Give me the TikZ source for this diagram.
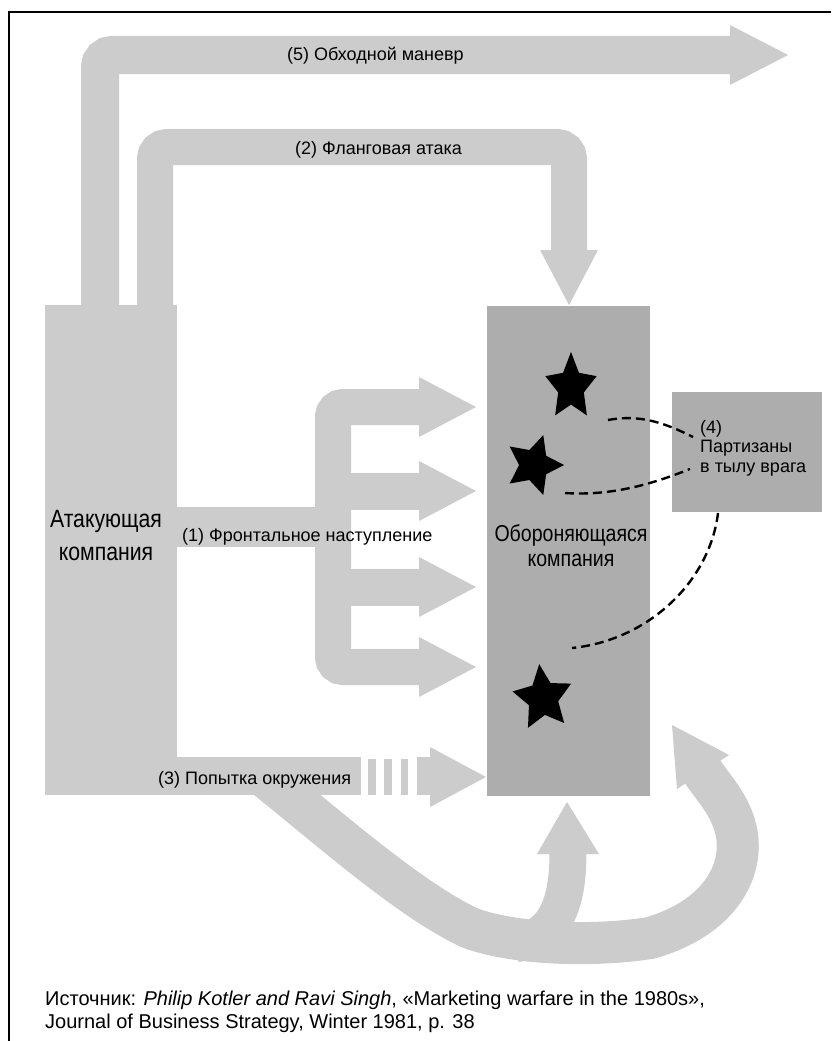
\documentclass[tikz,border=0pt]{standalone}
\usepackage{fontspec}
\setmainfont{Liberation Sans}
\newfontfamily\narrowfont{Liberation Sans}[FakeStretch=0.85]
\definecolor{armcol}{gray}{0.80}
\definecolor{boxcol}{gray}{0.68}
\newcommand{\drawstar}[5]{%
  \begin{scope}[shift={(#1,#2)}, yscale=#5]
    \fill[black] ({#4}:#3) -- ({#4+36}:{#3*0.5}) -- ({#4+72}:#3) -- ({#4+108}:{#3*0.5})
      -- ({#4+144}:#3) -- ({#4+180}:{#3*0.5}) -- ({#4+216}:#3) -- ({#4+252}:{#3*0.5})
      -- ({#4+288}:#3) -- ({#4+324}:{#3*0.5}) -- cycle;
  \end{scope}}
\begin{document}
\begin{tikzpicture}[x=1pt,y=-1pt,
  band/.style={draw=armcol, line cap=butt, line join=miter},
  head/.style={fill=armcol},
  lbl/.style={font=\fontsize{18}{20}\selectfont, inner sep=0pt, anchor=base west},
  bigl/.style={align=center, inner sep=0pt},
  dashline/.style={draw=black, line width=2.4pt, dash pattern=on 9pt off 5pt},
  captext/.style={font=\fontsize{20}{23}\selectfont, inner sep=0pt, anchor=base west}]
\useasboundingbox (0,0) rectangle (831,1041);
\fill[white] (0,0) rectangle (831,1041);
% frame
\draw[line width=2.2pt] (9,1041) -- (9,12) -- (831,12);

% boxes
\node[fill=armcol, minimum width=132pt, minimum height=490pt, inner sep=0pt, anchor=north west] (att) at (45,305) {};
\node[fill=boxcol, minimum width=163pt, minimum height=490pt, inner sep=0pt, anchor=north west] (def) at (487,306) {};
\node[fill=boxcol, minimum width=150pt, minimum height=120pt, inner sep=0pt, anchor=north west] (guer) at (672,392) {};

% (5) outflanking
\draw[band, line width=38pt, rounded corners=12pt] (100,306) -- (100,55) -- (732,55);
\fill[head] (730,25) -- (788,55) -- (730,85) -- cycle;
\node[lbl] (l5) at (287,60) {(5) Обходной маневр};

% (2) flank attack
\draw[band, line width=36pt, rounded corners=12pt] (155,306) -- (155,147) -- (569,147) -- (569,252);
\fill[head] (540,250) -- (598,250) -- (569,305) -- cycle;
\node[lbl] (l2) at (295,154) {(2) Фланговая атака};

% (1) frontal attack
\draw[band, line width=40pt] (176,527) -- (334,527);
\draw[band, line width=36pt, rounded corners=10pt] (421,407) -- (333,407) -- (333,667) -- (421,667);
\draw[band, line width=37pt] (333,491) -- (421,491);
\draw[band, line width=37pt] (333,587) -- (421,587);
\foreach \yy in {407,491,587,667}
  \fill[head] (419,\yy-30) -- (476,\yy) -- (419,\yy+30) -- cycle;
\node[lbl] (l1) at (182,541.5) {(1) Фронтальное наступление};

% (3) encirclement
\draw[band, line width=42pt] (264,776) .. controls (330,829) and (410,900) .. (470,928)
  .. controls (520,946) and (600,946) .. (650,938)
  .. controls (720,918) and (745,870) .. (736,830)
  .. controls (730,805) and (715,790) .. (702,771);
\fill[head] (672,725) -- (677,789) -- (729,755) -- cycle;
\draw[band, line width=37pt] (515,944) .. controls (555,937) and (568,905) .. (568,852);
\fill[head] (537,854) -- (599,854) -- (567,802) -- cycle;
\draw[band, line width=38pt] (176,776) -- (361,776);
\fill[armcol] (368,759) rectangle (376,795);
\fill[armcol] (384,759) rectangle (392,795);
\fill[armcol] (401,759) rectangle (408,795);
\fill[armcol] (417,757) rectangle (431,795);
\fill[head] (430,747) -- (486,777) -- (430,807) -- cycle;
\node[lbl] (l3) at (158,784.5) {(3) Попытка окружения};

% labels in boxes
\node[bigl, font=\narrowfont\fontsize{25}{33}\selectfont] (attl) at (106,536) {Атакующая\\компания};
\node[bigl, font=\narrowfont\fontsize{23}{25}\selectfont] (defl) at (571,546) {Обороняющаяся\\компания};
\node[font=\fontsize{18}{19.5}\selectfont, align=left, inner sep=0pt, anchor=north west] (guerl) at (700,420) {(4)\\Партизаны\\в тылу врага};

% stars
\drawstar{571}{387}{27}{-90}{1.3}
\drawstar{534}{465}{30}{0}{1.05}
\drawstar{543}{698}{31}{-97}{1.1}

% dashed guerrilla links
\coordinate (s1) at (608,420);
\coordinate (s2) at (565,493);
\coordinate (s3) at (572,648);
\coordinate (g1) at (693,437);
\coordinate (g2) at (690,469);
\coordinate (g3) at (718,513);
\draw[dashline] (s1) .. controls (640,414) and (665,423) .. (g1);
\draw[dashline] (s2) .. controls (610,496) and (650,485) .. (g2);
\draw[dashline] (g3) .. controls (710,580) and (650,640) .. (s3);

% caption
\node[captext] (cap1) at (45,1005) {Источник: \textit{Philip Kotler and Ravi Singh}, «Marketing warfare in the 1980s»,};
\node[captext] (cap2) at (45,1028) {Journal of Business Strategy, Winter 1981, p. 38};
\end{tikzpicture}
\end{document}
